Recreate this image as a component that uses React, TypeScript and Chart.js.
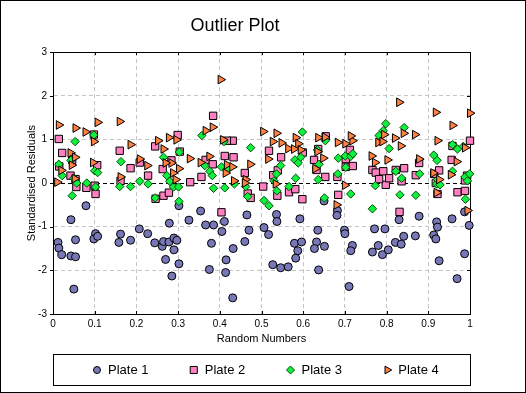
import React, { useEffect, useRef } from 'react';
import { Chart, registerables } from 'chart.js';
import { drawPoint } from 'chart.js/helpers';

Chart.register(...registerables);

const chartTitle = 'Outlier Plot';
const xTitle = 'Random Numbers';
const yTitle = 'Standardised Residuals';
const seriesNames = ['Plate 1', 'Plate 2', 'Plate 3', 'Plate 4'];
const xTickLabels = ['0', '0.1', '0.2', '0.3', '0.4', '0.5', '0.6', '0.7', '0.8', '0.9', '1'];
const yTickLabels = ['-3', '-2', '-1', '0', '1', '2', '3'];

const plate1: [number, number][] = [
  [0.079, -0.52], [0.043, -0.84], [0.012, -1.36], [0.014, -1.49], [0.021, -1.64], [0.043, -1.67], [0.054, -1.69],
  [0.054, -1.30], [0.050, -2.43], [0.102, -1.16], [0.098, -1.28], [0.107, -1.22], [0.162, -1.17], [0.158, -1.36],
  [0.186, -1.31], [0.207, -1.05], [0.227, -1.16], [0.244, -1.37], [0.262, -1.45], [0.265, -1.34], [0.278, -1.35],
  [0.290, -1.26], [0.297, -1.31], [0.290, -1.53], [0.270, -1.75], [0.302, -1.85], [0.285, -2.13], [0.279, -0.92],
  [0.302, -0.52], [0.326, -0.85], [0.354, -0.64], [0.366, -0.96], [0.385, -0.96], [0.411, -0.88], [0.405, -1.11],
  [0.380, -1.38], [0.375, -1.98], [0.415, -1.76], [0.414, -2.05], [0.432, -1.50], [0.431, -2.63], [0.465, -0.73],
  [0.470, -1.08], [0.460, -1.34], [0.506, -1.02], [0.517, -1.18], [0.536, -0.72], [0.537, -0.88], [0.527, -1.87],
  [0.546, -1.94], [0.564, -1.92], [0.582, -1.72], [0.587, -1.55], [0.579, -1.38], [0.596, -1.35], [0.592, -0.82],
  [0.635, -1.08], [0.632, -1.35], [0.627, -1.50], [0.651, -1.45], [0.637, -1.99], [0.650, -0.41], [0.682, -0.63],
  [0.681, -0.74], [0.699, -1.08], [0.700, -1.16], [0.718, -1.43], [0.714, -1.55], [0.710, -2.37], [0.771, -1.05],
  [0.796, -1.05], [0.780, -1.43], [0.766, -1.58], [0.790, -1.64], [0.804, -1.53], [0.821, -1.36], [0.835, -1.40],
  [0.841, -1.22], [0.830, -0.84], [0.878, -0.76], [0.869, -1.21], [0.913, -1.19], [0.918, -1.28], [0.920, -0.89],
  [0.922, -1.01], [0.926, -1.78], [0.957, -0.82], [0.987, -0.66], [0.987, -1.62], [0.969, -2.19], [0.998, -0.97],
];

const plate2: [number, number][] = [
  [0.014, 1.01], [0.022, 0.69], [0.046, 0.53], [0.015, 0.38], [0.042, 0.17], [0.054, 0.09], [0.056, -0.09],
  [0.080, -0.11], [0.100, -0.06], [0.102, -0.25], [0.106, 0.41], [0.098, 1.11], [0.160, 0.74], [0.186, 0.34],
  [0.208, 0.47], [0.228, 0.17], [0.245, 0.84], [0.162, 0.05], [0.246, -0.36], [0.265, -0.29], [0.278, -0.22],
  [0.384, 1.54], [0.299, 1.10], [0.284, 0.52], [0.263, 0.32], [0.304, 0.72], [0.366, 0.53], [0.383, 0.43],
  [0.412, 0.62], [0.433, 0.59], [0.431, 0.97], [0.417, 0.97], [0.356, 0.14], [0.329, 0.02], [0.460, 0.23],
  [0.467, -0.24], [0.504, -0.08], [0.538, -0.29], [0.566, -0.21], [0.581, -0.14], [0.598, -0.37], [0.404, -0.67],
  [0.474, -0.34], [0.518, 0.74], [0.547, 0.59], [0.599, 0.70], [0.539, 0.29], [0.528, 0.18], [0.654, 1.07],
  [0.636, 0.78], [0.626, 0.53], [0.632, 0.30], [0.653, 0.14], [0.682, 0.14], [0.684, -0.27], [0.712, 0.76],
  [0.702, 0.55], [0.702, 0.37], [0.719, 0.39], [0.798, -0.04], [0.836, 0.04], [0.831, -0.66], [0.970, -0.21],
  [0.988, -0.18], [0.922, -0.25], [1.0, 0.97], [0.958, 0.85], [0.956, 0.53], [0.878, 0.46], [0.766, 0.30],
  [0.774, 0.24], [0.792, 0.27], [0.822, 0.30], [0.842, 0.34], [0.782, 0.09], [0.806, 0.11], [0.870, 0.18],
  [0.914, 0.21], [0.926, 0.29], [0.918, 0.00], [0.993, 0.17], [0.988, 0.06],
];

const plate3: [number, number][] = [
  [0.053, 0.95], [0.098, 1.10], [0.014, 0.43], [0.022, 0.17], [0.043, 0.52], [0.050, 0.11], [0.057, 0.00],
  [0.081, 0.00], [0.102, -0.09], [0.100, 0.28], [0.107, 0.24], [0.163, 0.49], [0.160, -0.08], [0.186, -0.08],
  [0.208, 0.04], [0.228, -0.02], [0.046, -0.29], [0.245, -0.34], [0.302, -0.42], [0.357, 1.09], [0.410, 0.95],
  [0.474, 0.81], [0.265, 0.59], [0.303, 0.71], [0.273, 0.17], [0.280, 0.04], [0.289, -0.09], [0.301, -0.09],
  [0.364, 0.40], [0.376, 0.27], [0.382, 0.17], [0.404, 0.37], [0.419, 0.32], [0.435, -0.02], [0.385, -0.12],
  [0.412, -0.11], [0.462, -0.08], [0.467, -0.31], [0.506, -0.40], [0.518, -0.52], [0.537, -0.18], [0.566, -0.08],
  [0.651, -0.34], [0.598, 1.17], [0.653, 0.97], [0.634, 0.76], [0.580, 0.53], [0.594, 0.59], [0.588, 0.46],
  [0.546, 0.40], [0.536, 0.21], [0.582, 0.11], [0.530, 0.05], [0.638, 0.43], [0.636, 0.08], [0.683, 0.21],
  [0.684, 0.57], [0.701, 0.62], [0.714, 0.61], [0.719, 0.67], [0.702, 0.36], [0.714, -0.25], [0.773, -0.06],
  [0.832, -0.27], [0.870, -0.28], [0.766, -0.59], [0.989, -0.37], [0.920, -0.02], [0.798, 1.36], [0.792, 1.20],
  [0.782, 1.09], [0.842, 1.27], [0.806, 0.79], [0.958, 0.88], [0.970, 0.78], [0.984, 0.84], [0.913, 0.64],
  [0.921, 0.52], [0.822, 0.27], [0.836, 0.11], [0.879, 0.21], [0.958, 0.27], [0.922, 0.08], [0.928, -0.04],
  [0.988, 0.14], [0.994, 0.05], [0.999, 0.21],
];

const plate4: [number, number][] = [
  [0.014, 1.33], [0.054, 1.26], [0.107, 1.39], [0.160, 1.41], [0.078, 1.17], [0.098, 0.95], [0.186, 0.88],
  [0.042, 0.69], [0.053, 0.59], [0.045, 0.41], [0.020, 0.29], [0.096, 0.47], [0.208, 0.55], [0.226, 0.40],
  [0.252, 0.97], [0.162, 0.14], [0.010, 0.02], [0.052, 0.10], [0.402, 2.37], [0.383, 1.28], [0.366, 1.20],
  [0.278, 1.04], [0.296, 0.99], [0.265, 0.78], [0.328, 0.56], [0.284, 0.46], [0.270, 0.46], [0.302, 0.33],
  [0.288, 0.23], [0.294, 0.08], [0.354, 0.47], [0.375, 0.61], [0.408, 0.99], [0.417, 0.42], [0.430, 0.37],
  [0.414, 0.23], [0.434, 0.05], [0.473, 0.43], [0.462, 0.08], [0.460, 0.00], [0.504, 1.18], [0.534, -0.02],
  [0.536, 1.14], [0.527, 0.95], [0.548, 0.92], [0.582, 1.04], [0.588, 0.90], [0.564, 0.79], [0.578, 0.78],
  [0.594, 0.76], [0.516, 0.55], [0.636, 1.04], [0.652, 1.05], [0.634, 0.72], [0.648, 0.57], [0.629, 0.33],
  [0.683, 0.93], [0.701, 0.90], [0.718, 0.97], [0.714, 1.08], [0.700, -0.05], [0.680, -0.50], [0.920, -0.22],
  [0.994, -0.63], [0.830, 1.85], [0.918, 1.62], [1.0, 1.60], [0.958, 1.32], [0.868, 1.11], [0.841, 1.14],
  [0.820, 1.03], [0.794, 1.11], [0.780, 0.93], [0.790, 0.95], [0.834, 0.85], [0.922, 0.97], [0.988, 0.81],
  [0.764, 0.62], [0.772, 0.47], [0.802, 0.53], [0.878, 0.55], [0.968, 0.49], [0.912, 0.23], [0.926, 0.08],
  [0.954, 0.19],
];

const FONT = "'Liberation Sans', Arial, sans-serif";

const seriesStyles = [
  { pointStyle: 'circle', radius: 4, rotation: 0, bg: '#7878b8', border: '#000000', legendRadius: 3.5 },
  { pointStyle: 'rect', radius: 5.2, rotation: 0, bg: '#ff80c0', border: '#000000', legendRadius: 5 },
  { pointStyle: 'rectRot', radius: 4.2, rotation: 0, bg: '#10f040', border: '#005000', legendRadius: 4 },
  { pointStyle: 'triangle', radius: 5, rotation: 90, bg: '#ff8040', border: '#000000', legendRadius: 4.5 },
];

const plates = [plate1, plate2, plate3, plate4];

const framePlugin = {
  id: 'frame',
  beforeDraw(chart: any) {
    const { ctx, width, height } = chart;
    ctx.save();
    ctx.fillStyle = '#ffffff';
    ctx.fillRect(0, 0, width, height);
    ctx.strokeStyle = '#000000';
    ctx.lineWidth = 1;
    ctx.strokeRect(0.5, 0.5, width - 1, height - 1);
    ctx.restore();
  },
  beforeDatasetsDraw(chart: any) {
    const { ctx, chartArea } = chart;
    const { left, right, top, bottom } = chartArea;
    const xs = chart.scales.x;
    const ys = chart.scales.y;
    ctx.save();
    ctx.strokeStyle = '#000000';
    ctx.lineWidth = 1;
    ctx.setLineDash([]);
    ctx.beginPath();
    ctx.rect(Math.round(left) + 0.5, Math.round(top) + 0.5, Math.round(right - left), Math.round(bottom - top));
    ctx.stroke();
    ctx.beginPath();
    xs.ticks.forEach((t: any) => {
      const px = Math.round(xs.getPixelForValue(t.value)) + 0.5;
      ctx.moveTo(px, bottom);
      ctx.lineTo(px, bottom - 3);
      ctx.moveTo(px, top);
      ctx.lineTo(px, top + 3);
    });
    ys.ticks.forEach((t: any) => {
      const py = Math.round(ys.getPixelForValue(t.value)) + 0.5;
      ctx.moveTo(left, py);
      ctx.lineTo(left - 3, py);
      ctx.moveTo(right, py);
      ctx.lineTo(right - 3, py);
    });
    ctx.stroke();
    ctx.restore();
  },
  afterDraw(chart: any) {
    const { ctx, chartArea } = chart;
    const left = Math.round(chartArea.left) + 0.5;
    const right = Math.round(chartArea.right) + 0.5;
    const boxTop = 354.5;
    const boxH = 31;
    ctx.save();
    ctx.strokeStyle = '#000000';
    ctx.lineWidth = 1;
    ctx.strokeRect(left, boxTop, right - left, boxH);
    const slot = (right - left) / 4.31;
    const cy = boxTop + boxH / 2;
    seriesNames.forEach((name, i) => {
      const st = seriesStyles[i];
      const mx = left + 43.5 + i * slot;
      ctx.fillStyle = st.bg;
      ctx.strokeStyle = st.border;
      ctx.lineWidth = 1;
      drawPoint(ctx, { pointStyle: st.pointStyle, radius: st.legendRadius, rotation: st.rotation, borderWidth: 1 } as any, mx, cy);
      ctx.fillStyle = '#000000';
      ctx.font = `13px ${FONT}`;
      ctx.textBaseline = 'middle';
      ctx.textAlign = 'left';
      ctx.fillText(name, mx + 11, cy + 0.5);
    });
    ctx.restore();
  },
};

export default function App() {
  const ref = useRef<HTMLCanvasElement | null>(null);

  useEffect(() => {
    if (!ref.current) return;
    const datasets = plates.map((pts, i) => {
      const st = seriesStyles[i];
      return {
        label: seriesNames[i],
        data: pts.map(([x, y]) => ({ x, y })),
        pointStyle: st.pointStyle,
        pointRadius: st.radius,
        pointHoverRadius: st.radius,
        pointRotation: st.rotation,
        pointBackgroundColor: st.bg,
        pointBorderColor: st.border,
        pointBorderWidth: 1,
        backgroundColor: st.bg,
        borderColor: st.border,
        showLine: false,
        clip: false as any,
        order: 3 - i,
      };
    });

    const chart = new Chart(ref.current, {
      type: 'scatter',
      data: { datasets: datasets as any },
      plugins: [framePlugin],
      options: {
        animation: false,
        responsive: false,
        devicePixelRatio: 1,
        layout: { padding: { left: 0, right: 56, top: 0, bottom: 39 } },
        plugins: {
          legend: { display: false },
          tooltip: { enabled: false },
          title: {
            display: true,
            text: chartTitle,
            color: '#000000',
            font: { family: FONT, size: 18, weight: 'normal' },
            padding: { top: 15.5, bottom: 15 },
          },
        },
        scales: {
          x: {
            type: 'linear',
            min: 0,
            max: 1,
            afterFit: (s: any) => { s.height = 40; },
            ticks: {
              stepSize: 0.1,
              color: '#000000',
              padding: 4,
              maxRotation: 0,
              autoSkip: false,
              font: { family: FONT, size: 10 },
              callback: (_v: any, idx: number) => xTickLabels[idx],
            },
            grid: { color: '#c4c4c4', lineWidth: 1, drawTicks: false },
            border: { display: true, color: '#000000', width: 1, dash: [4, 3] },
            title: {
              display: true,
              text: xTitle,
              color: '#000000',
              font: { family: FONT, size: 11 },
              padding: { top: 4, bottom: 8 },
            },
          },
          y: {
            type: 'linear',
            min: -3,
            max: 3,
            afterFit: (s: any) => { s.width = 53; },
            ticks: {
              stepSize: 1,
              color: '#000000',
              padding: 6,
              font: { family: FONT, size: 10 },
              callback: (_v: any, idx: number) => yTickLabels[idx],
            },
            grid: {
              color: (c: any) => (c.tick && c.tick.value === 0 ? '#000000' : '#c4c4c4'),
              lineWidth: 1,
              drawTicks: false,
            },
            border: { display: true, color: '#000000', width: 1, dash: [4, 3] },
            title: {
              display: true,
              text: yTitle,
              color: '#000000',
              font: { family: FONT, size: 11 },
              padding: { top: 25, bottom: 0 },
            },
          },
        },
      } as any,
    });
    return () => chart.destroy();
  }, []);

  return (
    <div style={{ position: 'fixed', left: 0, top: 0, width: 526, height: 393 }}>
      <canvas ref={ref} width={526} height={393} style={{ display: 'block' }} />
    </div>
  );
}
